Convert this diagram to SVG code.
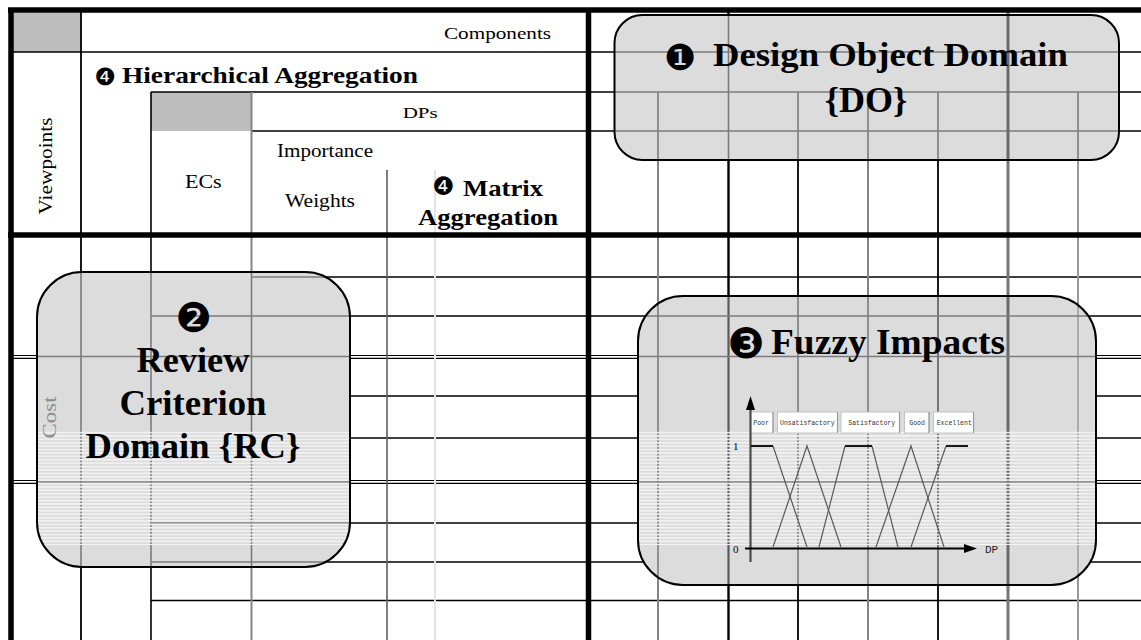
<svg xmlns="http://www.w3.org/2000/svg" width="1141" height="640" viewBox="0 0 1141 640">
<defs>
<style>
.thick{stroke:#000;stroke-width:5.5;fill:none}
.ln{stroke:#000;stroke-width:1.6;fill:none}
.ln2{stroke:#000;stroke-width:1.2;fill:none}
.gr{stroke:#858585;stroke-width:2;fill:none}
.dk{stroke:#5e5e5e;stroke-width:1.6;fill:none}
.lt{stroke:#e4e4e4;stroke-width:2;fill:none}
.in{stroke:#7c7c7c;stroke-width:1.6;fill:none}
.cell{fill:#bdbdbd}
.boxf{fill:#dcdcdc}
.boxs{fill:none;stroke:#000;stroke-width:2}
.t{font-family:"Liberation Serif","Times New Roman",serif;fill:#000}
.b{font-weight:bold}
.dg{font-family:"DejaVu Sans",sans-serif;fill:#000}
.mono{font-family:"Liberation Mono","Courier New",monospace;fill:#333}
.lab{fill:#fff;stroke:#c4c4c4;stroke-width:1}
.sh{stroke:#9a9a9a;stroke-width:1.2}
.mf{stroke:#5a5a5a;stroke-width:1.2;fill:none}
.mt{stroke:#000;stroke-width:1.8;fill:none}
</style>
<pattern id="stripes" width="8" height="3.4" patternUnits="userSpaceOnUse">
<rect width="8" height="1.5" fill="#f3f3f3"/>
</pattern>
<clipPath id="clipDO"><rect x="614.5" y="15" width="504.5" height="145" rx="28" ry="28"/></clipPath>
<clipPath id="clipRC"><rect x="37" y="272" width="313" height="295" rx="45" ry="45"/></clipPath>
<clipPath id="clipFZ"><rect x="638" y="296" width="458" height="289" rx="45" ry="45"/></clipPath>
</defs>

<rect x="0" y="0" width="1141" height="640" fill="#fff"/>

<g id="table">
<rect class="cell" x="13" y="12.5" width="68" height="39.5"/>
<rect class="cell" x="151" y="92" width="100" height="39"/>
<g id="grid">
<line class="ln" x1="12" y1="52" x2="1141" y2="52"/>
<line class="ln" x1="151" y1="92" x2="1141" y2="92"/>
<line class="ln" x1="251" y1="131" x2="1141" y2="131"/>
<line class="ln" x1="251" y1="277" x2="1141" y2="277"/>
<line class="ln" x1="151" y1="316" x2="1141" y2="316"/>
<line class="ln2" x1="12" y1="355.5" x2="1141" y2="355.5"/>
<line class="ln2" x1="12" y1="358.3" x2="1141" y2="358.3"/>
<line class="ln" x1="251" y1="396" x2="1141" y2="396"/>
<line class="ln" x1="251" y1="438" x2="1141" y2="438"/>
<line class="ln2" x1="12" y1="480.5" x2="1141" y2="480.5"/>
<line class="ln2" x1="12" y1="483.3" x2="1141" y2="483.3"/>
<line class="ln" x1="151" y1="523" x2="1141" y2="523"/>
<line class="ln" x1="151" y1="562" x2="1141" y2="562"/>
<line class="ln" x1="151" y1="600.5" x2="1141" y2="600.5"/>
<line class="ln" x1="81" y1="12" x2="81" y2="640" style="stroke-width:1.8"/>
<line class="ln" x1="151" y1="92" x2="151" y2="640"/>
<line class="gr" x1="251.5" y1="92" x2="251.5" y2="640"/>
<line class="dk" x1="387" y1="170" x2="387" y2="640"/>
<line class="lt" x1="435" y1="170" x2="435" y2="640"/>
<line class="gr" x1="658" y1="92" x2="658" y2="640"/>
<line class="ln" x1="728.5" y1="12" x2="728.5" y2="640" style="stroke-width:2.4"/>
<line class="ln" x1="798" y1="92" x2="798" y2="640" style="stroke-width:1.8"/>
<line class="gr" x1="868" y1="92" x2="868" y2="640"/>
<line class="ln" x1="938" y1="92" x2="938" y2="640" style="stroke-width:1.8"/>
<line class="gr" x1="1008" y1="12" x2="1008" y2="640" style="stroke:#767676;stroke-width:3"/>
<line class="gr" x1="1078" y1="92" x2="1078" y2="640" style="stroke:#999"/>
</g>
<g id="frame">
<line class="thick" x1="8" y1="10" x2="1141" y2="10"/>
<line class="thick" x1="11" y1="8" x2="11" y2="640"/>
<line class="thick" x1="588.5" y1="8" x2="588.5" y2="640"/>
<line class="thick" x1="8" y1="235" x2="1141" y2="235"/>
</g>
<g id="header-text">
<text class="t" x="444" y="38.5" font-size="17" textLength="107" lengthAdjust="spacingAndGlyphs">Components</text>
<text class="dg" x="105" y="85" font-size="24" text-anchor="middle">❹</text>
<text class="t b" x="122" y="82.5" font-size="24" textLength="296" lengthAdjust="spacingAndGlyphs">Hierarchical Aggregation</text>
<text class="t" x="402.7" y="117.7" font-size="15" textLength="35" lengthAdjust="spacingAndGlyphs">DPs</text>
<text class="t" x="277" y="157" font-size="19" textLength="96" lengthAdjust="spacingAndGlyphs">Importance</text>
<text class="t" x="185" y="188.3" font-size="18" textLength="36.7" lengthAdjust="spacingAndGlyphs">ECs</text>
<text class="t" x="285" y="207.3" font-size="19" textLength="70" lengthAdjust="spacingAndGlyphs">Weights</text>
<text class="dg" x="443.5" y="195" font-size="25" text-anchor="middle">❹</text>
<text class="t b" x="463" y="196" font-size="24" textLength="80" lengthAdjust="spacingAndGlyphs">Matrix</text>
<text class="t b" x="418" y="225" font-size="24" textLength="140" lengthAdjust="spacingAndGlyphs">Aggregation</text>
<text class="t" transform="translate(52,166) rotate(-90)" font-size="18" text-anchor="middle" textLength="97" lengthAdjust="spacingAndGlyphs">Viewpoints</text>
</g>
</g>

<g id="design-object-domain">
<rect class="boxf" x="614.5" y="15" width="504.5" height="145" rx="28" ry="28"/>
<g clip-path="url(#clipDO)">
<line class="in" x1="590" y1="52" x2="1141" y2="52"/>
<line class="in" x1="590" y1="92" x2="1141" y2="92"/>
<line class="in" x1="590" y1="131" x2="1141" y2="131"/>
<line class="in" x1="658" y1="92" x2="658" y2="160"/>
<line class="in" x1="728.5" y1="12" x2="728.5" y2="160"/>
<line class="in" x1="798" y1="92" x2="798" y2="160"/>
<line class="in" x1="868" y1="92" x2="868" y2="160"/>
<line class="in" x1="938" y1="92" x2="938" y2="160"/>
<line class="in" x1="1008" y1="12" x2="1008" y2="160" style="stroke:#6a6a6a;stroke-width:3"/>
<line class="in" x1="1078" y1="92" x2="1078" y2="160"/>
</g>
<rect class="boxs" x="614.5" y="15" width="504.5" height="145" rx="28" ry="28"/>
<text class="dg" x="680" y="69.5" font-size="36" text-anchor="middle">❶</text>
<text class="t b" x="713" y="66" font-size="34" textLength="355" lengthAdjust="spacingAndGlyphs">Design Object Domain</text>
<text class="t b" x="866" y="112" font-size="36" text-anchor="middle">{DO}</text>
</g>

<g id="review-criterion-domain">
<rect class="boxf" x="37" y="272" width="313" height="295" rx="45" ry="45"/>
<g clip-path="url(#clipRC)">
<line class="in" x1="81" y1="270" x2="81" y2="570"/>
<line class="in" x1="151" y1="270" x2="151" y2="570"/>
<line class="in" x1="251.5" y1="270" x2="251.5" y2="570"/>
<line class="in" x1="251" y1="277" x2="360" y2="277"/>
<line class="in" x1="151" y1="316" x2="360" y2="316"/>
<line class="in" x1="30" y1="356.5" x2="360" y2="356.5"/>
<line class="in" x1="30" y1="482" x2="360" y2="482"/>
<line class="in" x1="151" y1="523" x2="360" y2="523"/>
<line class="in" x1="151" y1="562" x2="360" y2="562"/>
<rect x="30" y="431" width="330" height="114" fill="url(#stripes)"/>
</g>
<rect class="boxs" x="37" y="272" width="313" height="295" rx="45" ry="45"/>
<text class="t" transform="translate(55.5,417.5) rotate(-90)" font-size="18" text-anchor="middle" textLength="42" lengthAdjust="spacingAndGlyphs" style="fill:#8c8c8c">Cost</text>
<text class="dg" x="193.7" y="331.5" font-size="41" text-anchor="middle">❷</text>
<text class="t b" x="193" y="372" font-size="36" text-anchor="middle" textLength="113" lengthAdjust="spacingAndGlyphs">Review</text>
<text class="t b" x="193" y="415" font-size="36" text-anchor="middle" textLength="147" lengthAdjust="spacingAndGlyphs">Criterion</text>
<text class="t b" x="193" y="458" font-size="36" text-anchor="middle" textLength="215" lengthAdjust="spacingAndGlyphs">Domain {RC}</text>
</g>

<g id="fuzzy-impacts">
<rect class="boxf" x="638" y="296" width="458" height="289" rx="45" ry="45"/>
<g clip-path="url(#clipFZ)">
<line class="in" x1="658" y1="290" x2="658" y2="590"/>
<line class="in" x1="728.5" y1="290" x2="728.5" y2="590" style="stroke:#5a5a5a;stroke-width:2.2"/>
<line class="in" x1="798" y1="290" x2="798" y2="590"/>
<line class="in" x1="868" y1="290" x2="868" y2="590"/>
<line class="in" x1="938" y1="290" x2="938" y2="590" style="stroke:#5a5a5a"/>
<line class="in" x1="1008" y1="290" x2="1008" y2="590" style="stroke:#6a6a6a;stroke-width:3"/>
<line class="in" x1="1078" y1="290" x2="1078" y2="590" style="stroke:#a0a0a0"/>
<line class="in" x1="630" y1="316" x2="1100" y2="316"/>
<line class="in" x1="630" y1="356.5" x2="1100" y2="356.5"/>
<line class="in" x1="630" y1="482" x2="1100" y2="482"/>
<rect x="630" y="431" width="470" height="114" fill="url(#stripes)"/>
</g>
<rect class="boxs" x="638" y="296" width="458" height="289" rx="45" ry="45"/>
<text class="dg" x="746" y="357.5" font-size="42" text-anchor="middle">❸</text>
<text class="t b" x="771" y="353.5" font-size="36" textLength="234" lengthAdjust="spacingAndGlyphs">Fuzzy Impacts</text>
<g id="fuzzy-chart">
<rect class="lab" x="750.5" y="412" width="22.5" height="21"/>
<rect class="lab" x="777.5" y="412" width="60" height="21"/>
<rect class="lab" x="841" y="412" width="58.5" height="21"/>
<rect class="lab" x="904.5" y="412" width="24.5" height="21"/>
<rect class="lab" x="933.5" y="412" width="40" height="21"/>
<line class="sh" x1="773" y1="412" x2="773" y2="433"/>
<line class="sh" x1="837.5" y1="412" x2="837.5" y2="433"/>
<line class="sh" x1="899.5" y1="412" x2="899.5" y2="433"/>
<line class="sh" x1="929" y1="412" x2="929" y2="433"/>
<line class="sh" x1="973.5" y1="412" x2="973.5" y2="433"/>
<text class="mono" x="753.3" y="425" font-size="6.5">Poor</text>
<text class="mono" x="780" y="425" font-size="6.5">Unsatisfactory</text>
<text class="mono" x="848.3" y="425" font-size="6.5">Satisfactory</text>
<text class="mono" x="909.3" y="425" font-size="6.5">Good</text>
<text class="mono" x="936.7" y="425" font-size="6.5">Excellent</text>
<line x1="750.5" y1="408" x2="750.5" y2="562" stroke="#4a4a4a" stroke-width="2.2"/>
<polygon points="750.5,396 746,410 755,410" fill="#000"/>
<line x1="745" y1="548.5" x2="966" y2="548.5" stroke="#000" stroke-width="2"/>
<polygon points="977,548.5 964,544 964,553" fill="#000"/>
<text class="t" x="733" y="450" font-size="11">1</text>
<text class="t" x="733" y="552.5" font-size="11">0</text>
<text class="mono" x="985" y="552.5" font-size="11" style="fill:#222">DP</text>
<polyline class="mf" points="773,446 807,547"/>
<polyline class="mf" points="773,547 807,446 841,547"/>
<polyline class="mf" points="819,547 845,446"/>
<polyline class="mf" points="872,446 898,547"/>
<polyline class="mf" points="876,547 911,446 944,547"/>
<polyline class="mf" points="911,547 946,446"/>
<line class="mt" x1="751" y1="446" x2="773" y2="446"/>
<line class="mt" x1="845" y1="446" x2="872" y2="446"/>
<line class="mt" x1="946" y1="446" x2="968" y2="446"/>
</g>
</g>
</svg>
